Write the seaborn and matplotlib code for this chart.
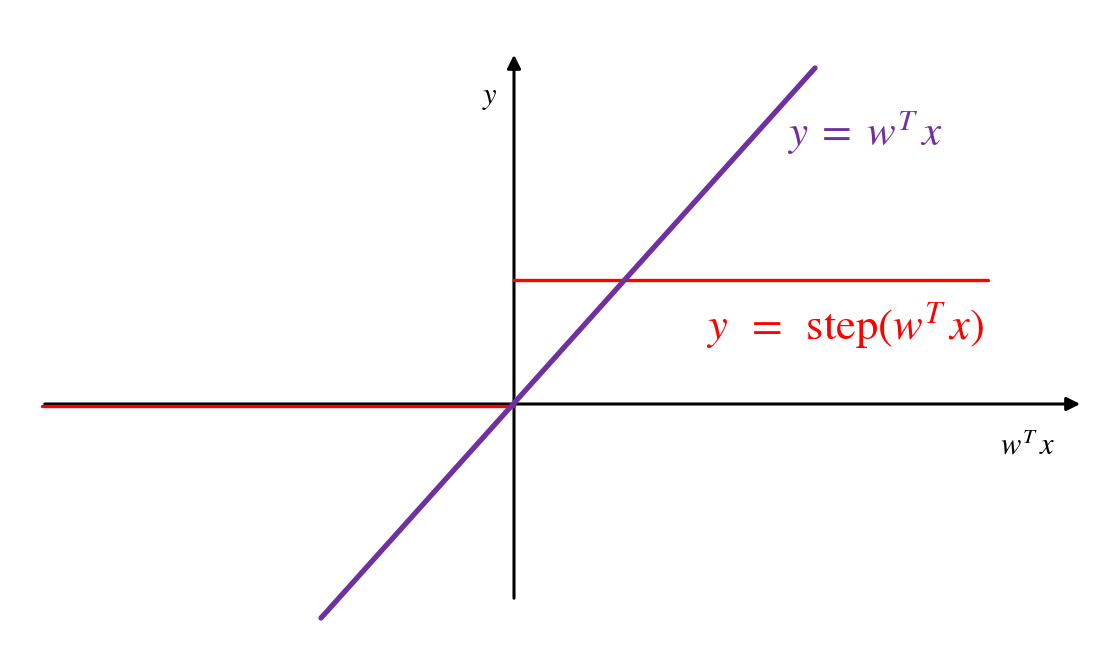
import numpy as np
import pandas as pd
import matplotlib.pyplot as plt
import seaborn as sns

# data in units of 100 px, origin at the axes crossing
line_x = [-1.93, 3.01]
line_y = [-2.14, 3.36]

step_left_x = [-4.72, 0.0]
step_left_y = [-0.02, -0.02]
step_right_x = [0.0, 4.74]
step_right_y = [1.24, 1.24]

xaxis_x = [-4.72, 5.69]
yaxis_y = [-1.97, 3.52]

sns.set_theme(style='white')
plt.rcParams['mathtext.fontset'] = 'stix'

fig = plt.figure(figsize=(11.03, 6.57), dpi=100)
ax = fig.add_axes([0, 0, 1, 1])
ax.set_xlim(-5.14, 5.89)
ax.set_ylim(-2.53, 4.04)
ax.axis('off')

# axes with arrows
ax.annotate('', xy=(xaxis_x[1], 0), xytext=(xaxis_x[0], 0), zorder=1,
            arrowprops=dict(arrowstyle='-|>', color='black', lw=2.2, mutation_scale=20))
ax.annotate('', xy=(0, yaxis_y[1]), xytext=(0, yaxis_y[0]), zorder=1,
            arrowprops=dict(arrowstyle='-|>', color='black', lw=2.2, mutation_scale=20))

# step function
sns.lineplot(x=step_left_x, y=step_left_y, color='#FF0000', lw=2.4, ax=ax,
             estimator=None, zorder=3)
sns.lineplot(x=step_right_x, y=step_right_y, color='#FF0000', lw=2.4, ax=ax,
             estimator=None, zorder=3)

# linear function
sns.lineplot(x=line_x, y=line_y, color='#7030A0', lw=3.8, ax=ax, estimator=None, zorder=4)

ax.text(-0.24, 3.07, r'$y$', fontsize=22, ha='center', va='center', color='black')
ax.text(5.13, -0.42, r'$w^T\,x$', fontsize=22, ha='center', va='center', color='black')
ax.text(3.51, 2.71, r'$y\;=\;w^T\,x$', fontsize=31, ha='center', va='center', color='#7030A0')
ax.text(3.31, 0.79, r'$y\;\;=\;\;\mathrm{step}(w^T\,x)$', fontsize=32, ha='center',
        va='center', color='#FF0000')

fig.savefig('out.png', dpi=100)
